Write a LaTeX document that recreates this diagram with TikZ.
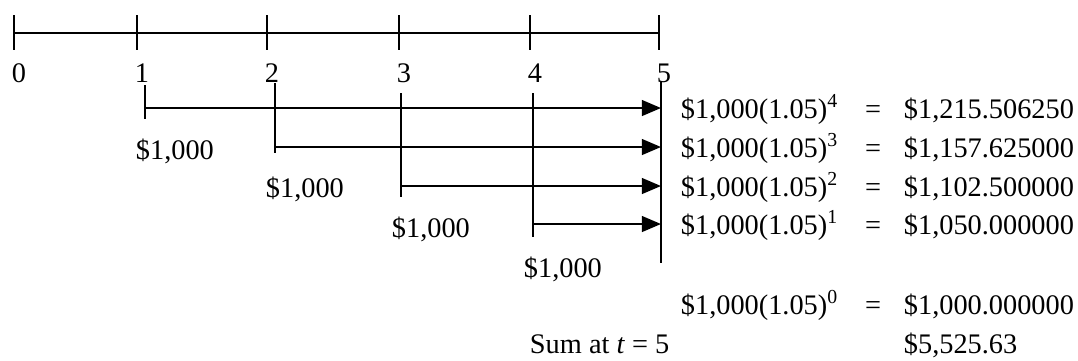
\documentclass[tikz,border=0pt]{standalone}
\usepackage{fontspec}
\setmainfont{Liberation Serif}
\usetikzlibrary{arrows.meta}

\begin{document}
\begin{tikzpicture}[x=0.6pt, y=-0.6pt, line width=1.15pt,
    lbl/.style={font=\fontsize{17}{20}\selectfont, inner sep=0pt},
    flow/.style={-{Triangle[length=11.5pt, width=9.5pt]}}]
    \useasboundingbox (0,0) rectangle (1078,360);

    % time line
    \foreach \i/\x in {0/14,1/137,2/267,3/399,4/530,5/659} {
        \coordinate (t\i) at (\x,33);
        \draw (\x,15) -- (\x,50);
        \node[lbl, anchor=base] (n\i) at (\x+5,82) {\i};
    }
    \draw (t0) -- (t5);

    % end of year 5
    \coordinate (endtop) at (661,82);
    \coordinate (endbot) at (661,263);
    \draw (endtop) -- (endbot);

    % payments carried forward
    \foreach \i/\x/\ytop/\y/\ybot/\ylbl in {1/145/85/108/119/159, 2/275/83/147/153/197,
                                           3/401/93/186/197/237, 4/533/93/224/237/277} {
        \coordinate (p\i top) at (\x,\ytop);
        \coordinate (p\i bot) at (\x,\ybot);
        \coordinate (p\i) at (\x,\y);
        \draw (p\i top) -- (p\i bot);
        \draw[flow] (p\i) -- (p\i -| endtop);
        \node[lbl, anchor=base west] (c\i) at (\x-10,\ylbl) {\$1,000};
    }

    % future values
    \foreach \k/\y/\val in {4/118/{1,215.506250}, 3/157/{1,157.625000}, 2/196/{1,102.500000},
                            1/234/{1,050.000000}, 0/314/{1,000.000000}} {
        \node[lbl, anchor=base west] (f\k) at (680,\y) {\$1,000(1.05)\textsuperscript{\k}};
        \node[lbl, anchor=base] (e\k) at (873,\y) {=};
        \node[lbl, anchor=base west] (v\k) at (903,\y) {\$\val};
    }

    \node[lbl, anchor=base west] (sumlbl) at (529,353) {Sum at \textit{t} = 5};
    \node[lbl, anchor=base west] (sumval) at (903,353) {\$5,525.63};
\end{tikzpicture}
\end{document}
